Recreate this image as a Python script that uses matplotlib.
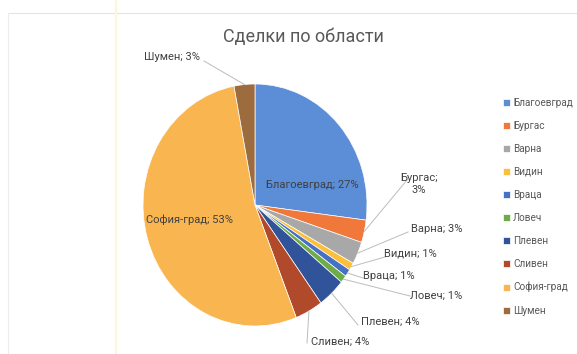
import numpy as np
import matplotlib.pyplot as plt
from matplotlib.lines import Line2D

plt.rcParams['font.family'] = ['Roboto', 'DejaVu Sans']

regions = ["Благоевград", "Бургас", "Варна", "Видин", "Враца",
           "Ловеч", "Плевен", "Сливен", "София-град", "Шумен"]
shares = [27, 3, 3, 1, 1, 1, 4, 4, 53, 3]
colors = ["#5b8ed6", "#f0783a", "#a8a8a8", "#fdbe3a", "#4470c5",
          "#6fab46", "#30539a", "#b04a2a", "#f9b650", "#9c6b3e"]

W, H = 577, 354
# pie geometry in image pixels (the scan is a bit squeezed, so an ellipse)
cx, cy, rx, ry = 255, 205, 112, 121

# label placement in image pixels: text centre, end of leader line
outside = {
    "Шумен": ((172, 57), (204, 61)),
    "Бургас": ((419, 184), (407, 180)),
    "Варна": ((437, 229), (408, 232)),
    "Видин": ((410, 253), (385, 257)),
    "Враца": ((389, 276), (363, 278)),
    "Ловеч": ((436, 296), (410, 296)),
    "Плевен": ((390, 322), (358, 325)),
    "Сливен": ((340, 342), (307, 343)),
}
inside = {"Благоевград": (312, 185), "София-град": (190, 220)}

fig = plt.figure(figsize=(W / 100, H / 100), dpi=100)
fig.patch.set_facecolor("white")

# faint sheet lines from the scan
fig.add_artist(Line2D([8 / W, 1], [1 - 13 / H] * 2, color="#e4e4e4", lw=0.8))
fig.add_artist(Line2D([8 / W] * 2, [0, 1 - 13 / H], color="#ececec", lw=0.8))
fig.add_artist(Line2D([116 / W] * 2, [0, 1], color="#fcf6dc", lw=1.5))

ax = fig.add_axes([(cx - rx) / W, (H - cy - ry) / H, 2 * rx / W, 2 * ry / H])
wedges, _ = ax.pie(shares, colors=colors, startangle=90, counterclock=False,
                   wedgeprops=dict(edgecolor="white", linewidth=0.5))
ax.set_aspect("auto")
ax.set_xlim(-1, 1)
ax.set_ylim(-1, 1)

# overlay in image pixel coords for labels and leaders
ov = fig.add_axes([0, 0, 1, 1])
ov.set_xlim(0, W)
ov.set_ylim(H, 0)
ov.axis("off")

txt = "#404040"
for name, share, w in zip(regions, shares, wedges):
    mid = np.deg2rad((w.theta1 + w.theta2) / 2)
    px, py = cx + rx * np.cos(mid), cy - ry * np.sin(mid)
    if name in inside:
        tx, ty = inside[name]
        ov.text(tx, ty, f"{name}; {share}%", ha="center", va="center",
                fontsize=8, color=txt)
        continue
    (tx, ty), (lx, ly) = outside[name]
    label = f"{name};\n{share}%" if name == "Бургас" else f"{name}; {share}%"
    ov.plot([px, lx], [py, ly], color="#bcbcbc", lw=0.7)
    ov.text(tx, ty, label, ha="center", va="center", fontsize=8,
            color=txt, linespacing=1.3)

ov.text(303, 37, "Сделки по области", ha="center", va="center",
        fontsize=13, color="#595959")

ov.legend(wedges, regions, loc="upper left",
          bbox_to_anchor=(503 / W, 1 - 98 / H), frameon=False,
          fontsize=7.2, labelcolor="#595959", borderpad=0, borderaxespad=0,
          handlelength=0.7, handleheight=0.7, handletextpad=0.3,
          labelspacing=1.3)

fig.savefig("out.png", dpi=100)
